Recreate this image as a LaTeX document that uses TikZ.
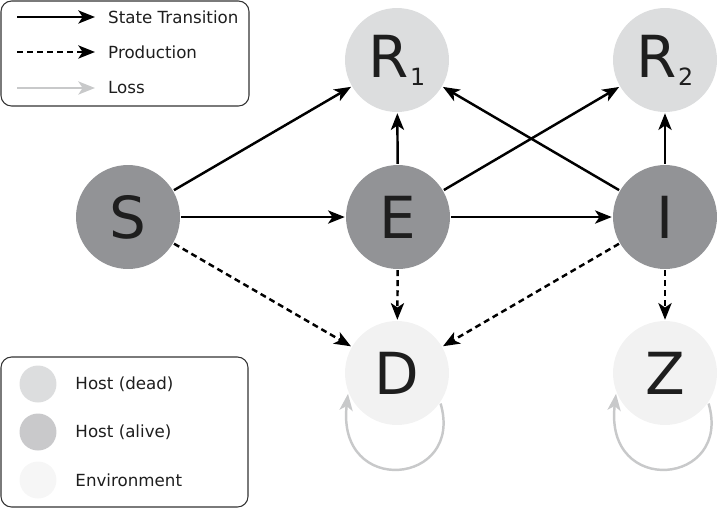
\documentclass[tikz,border=0pt]{standalone}
\usepackage{fontspec}
\setmainfont{DejaVu Sans}
\usepackage{xcolor}
\usepackage{tikz}
\usetikzlibrary{arrows.meta}
\usetikzlibrary{positioning}
\definecolor{deadgrey}{HTML}{DCDDDE}
\definecolor{alivegrey}{HTML}{929396}
\definecolor{envgrey}{HTML}{F2F2F2}
\definecolor{lossgrey}{HTML}{C8C9CA}
\definecolor{framegrey}{HTML}{333333}
\definecolor{inkgrey}{HTML}{1E1E1E}

\begin{document}
\begin{tikzpicture}[x=0.02cm,y=-0.02cm,line width=1.4pt,>={Stealth[length=9.5pt,width=7.5pt,inset=2.5pt]}]
\tikzset{
    statenode/.style  = {circle, minimum size=2.08cm, inner sep=0pt, text=inkgrey, font=\fontsize{33}{33}\selectfont},
    deadnode/.style   = {statenode, fill=deadgrey},
    alivenode/.style  = {statenode, fill=alivegrey},
    envnode/.style    = {statenode, fill=envgrey},
    transition/.style = {->, draw=black},
    production/.style = {->, draw=black, dash pattern=on 3.4pt off 2.3pt},
    loss/.style       = {->, draw=lossgrey},
    legendbox/.style  = {draw=framegrey, line width=0.6pt, rounded corners=6pt},
    legendtext/.style = {anchor=west, inner sep=0pt, text=inkgrey, font=\fontsize{9.5}{11}\selectfont},
    legenddot/.style  = {circle, minimum size=0.74cm, inner sep=0pt}
}
\newcommand{\recov}[1]{R\kern0.5pt\raisebox{-4.5pt}{\fontsize{13.5}{13.5}\selectfont #1}}
\useasboundingbox (0,0) rectangle (721,508);

% states
\node [alivenode] (S) at (128,217) {S};
\node [alivenode] (E) at (398,217) {E};
\node [alivenode] (I) at (665,217) {I};
\node [deadnode] (R1) at (397,60) {\recov{1}};
\node [deadnode] (R2) at (665,60) {\recov{2}};
\node [envnode] (D) at (397,373) {D};
\node [envnode] (Z) at (665,373) {Z};

% transitions
\draw [transition] (S) -- (R1);
\draw [transition] (S) -- (E);
\draw [transition] (E) -- (R1);
\draw [transition] (E) -- (R2);
\draw [transition] (E) -- (I);
\draw [transition] (I) -- (R1);
\draw [transition] (I) -- (R2);

% production
\draw [production] (S) -- (D);
\draw [production] (E) -- (D);
\draw [production] (I) -- (D);
\draw [production] (I) -- (Z);

% loss
\draw [loss] (D.-35) .. controls +(24,82) and +(-12,104) .. (D.-157);
\draw [loss] (Z.-35) .. controls +(24,82) and +(-12,104) .. (Z.-157);

% legend: connectors
\draw [legendbox] (1,1) rectangle (249,106);
\coordinate (stA) at (17,17);  \coordinate (stB) at (95,17);
\coordinate (prA) at (17,52);  \coordinate (prB) at (95,52);
\coordinate (lsA) at (17,88);  \coordinate (lsB) at (95,88);
\draw [transition] (stA) -- (stB);
\draw [production] (prA) -- (prB);
\draw [loss] (lsA) -- (lsB);
\node [legendtext] (stText) at (107,17) {State Transition};
\node [legendtext] (prText) at (107,52) {Production};
\node [legendtext] (lsText) at (107,88) {Loss};

% legend: states
\draw [legendbox] (1,357) rectangle (248,507);
\node [legenddot, fill=deadgrey] (kDead) at (38,384) {};
\node [legenddot, fill=alivegrey!50!white] (kAlive) at (38,432) {};
\node [legenddot, fill=envgrey!70!white] (kEnv) at (38,480) {};
\node [legendtext, right=0.33cm of kDead] (deadText) {Host (dead)};
\node [legendtext, right=0.33cm of kAlive] (aliveText) {Host (alive)};
\node [legendtext, right=0.33cm of kEnv] (envText) {Environment};
\end{tikzpicture}
\end{document}
